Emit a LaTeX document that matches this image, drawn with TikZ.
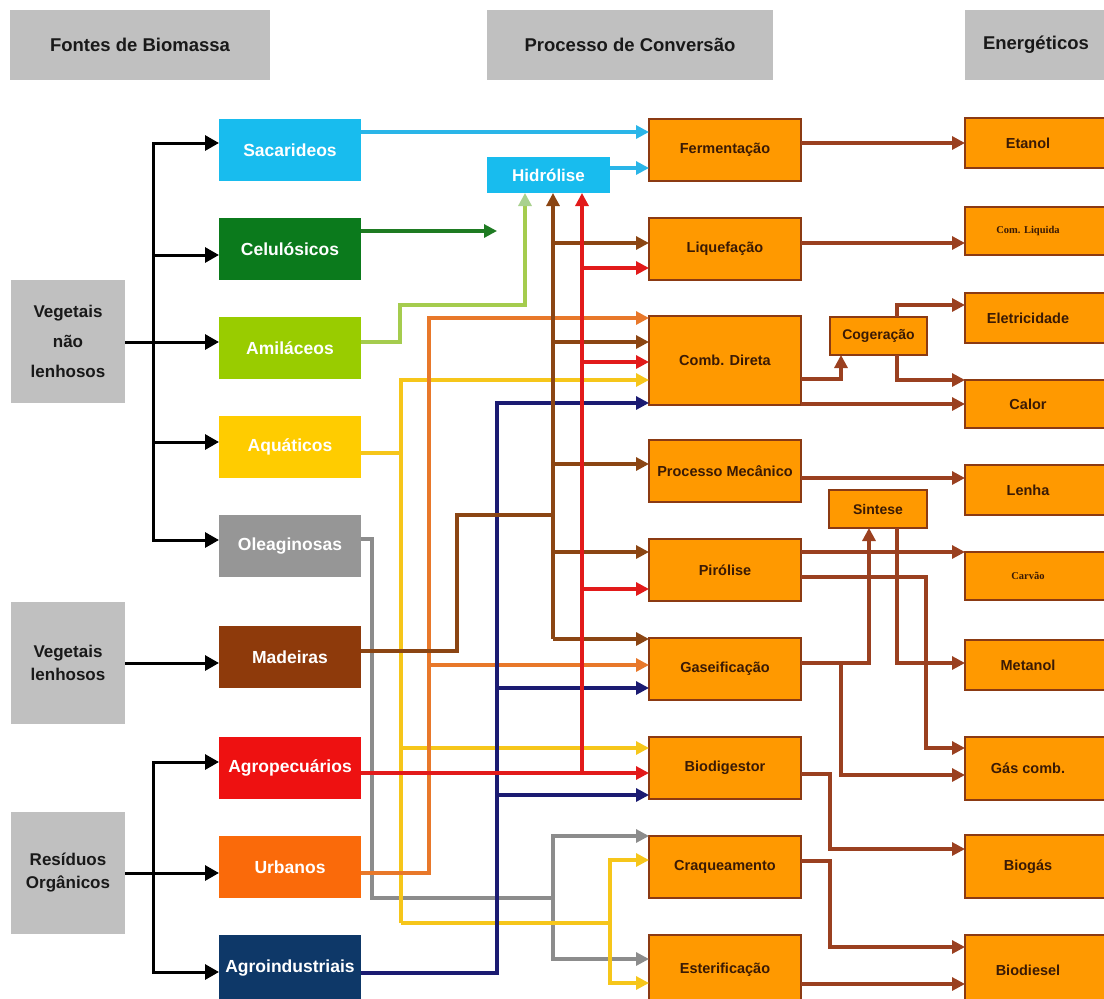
\documentclass[tikz,border=0pt]{standalone}
\usepackage{fontspec}
\setmainfont{Liberation Sans}
\newfontfamily\smallserif{Liberation Serif}
\usetikzlibrary{arrows.meta}
\definecolor{hdrG}{HTML}{C0C0C0}
\definecolor{cyanC}{HTML}{18BCEE}
\definecolor{celG}{HTML}{0B7A1C}
\definecolor{amiG}{HTML}{99CC00}
\definecolor{aquY}{HTML}{FFCC00}
\definecolor{oleG}{HTML}{969696}
\definecolor{madB}{HTML}{8E3A0B}
\definecolor{agpR}{HTML}{EE1111}
\definecolor{urbO}{HTML}{FA6A0A}
\definecolor{agiN}{HTML}{0E3868}
\definecolor{procO}{HTML}{FF9900}
\definecolor{procB}{HTML}{8B3A13}
\definecolor{procT}{HTML}{3A1A05}
\definecolor{lnBr}{HTML}{8B4513}
\definecolor{lnRd}{HTML}{E21A1A}
\definecolor{lnOr}{HTML}{E8782A}
\definecolor{lnYl}{HTML}{F6C61A}
\definecolor{lnGy}{HTML}{8C8C8C}
\definecolor{lnNv}{HTML}{1B1B72}
\definecolor{lnLg}{HTML}{A5CC4E}
\definecolor{tipLg}{HTML}{A9D18E}
\definecolor{lnGr}{HTML}{1E7B22}
\definecolor{lnCy}{HTML}{2AB5E8}
\definecolor{rBr}{HTML}{9A4020}
\begin{document}
\begin{tikzpicture}[x=1pt,y=-1pt,
  box/.style={anchor=north west, inner sep=0pt, outer sep=0pt},
  hdrbox/.style={box, fill=hdrG, minimum height=70pt, text=black!90, font=\fontsize{18.5}{21}\selectfont\bfseries},
  grpbox/.style={box, fill=hdrG, minimum width=114pt, minimum height=122pt, align=center, font=\fontsize{17}{23}\selectfont\bfseries, text=black!90},
  srcbox/.style={box, minimum width=142pt, minimum height=62pt, text=white, font=\fontsize{17.5}{20}\selectfont\bfseries},
  procbox/.style={box, fill=procO, draw=procB, line width=2pt, minimum width=152pt, minimum height=62pt, text=procT, font=\fontsize{14.5}{16}\selectfont\bfseries},
  midbox/.style={box, fill=procO, draw=procB, line width=2pt, minimum width=97pt, minimum height=38pt, text=procT, font=\fontsize{14}{16}\selectfont\bfseries},
  enbox/.style={box, fill=procO, draw=procB, line width=2pt, minimum width=150pt, minimum height=50pt, text=procT, font=\fontsize{14.5}{16}\selectfont\bfseries, execute at begin node={\hspace*{-24pt}}},
  conn/.style={line width=3.1pt},
  tip/.style={-{Triangle[length=13pt,width=13pt]}},
  blk/.style={line width=3pt, black, -{Triangle[length=14pt,width=15pt]}},
  rb/.style={conn, rBr, tip}
]
\useasboundingbox (0,0) rectangle (1104,999);
\fill[white] (0,0) rectangle (1104,999);

% headers
\node[hdrbox, minimum width=260pt] (h1) at (10,10) {Fontes de Biomassa};
\node[hdrbox, minimum width=286pt] (h2) at (487,10) {Processo de Conversão};
\node[hdrbox, minimum width=142pt] (h3) at (965,10) {Energéticos};

% group boxes
\node[grpbox, font=\fontsize{17}{30}\selectfont\bfseries, minimum height=123pt] (vnl) at (11,280) {Vegetais\\não\\lenhosos};
\node[grpbox] (vl) at (11,602) {Vegetais\\lenhosos};
\node[grpbox] (ro) at (11,812) {Resíduos\\Orgânicos};

% source boxes
\node[srcbox, fill=cyanC] (sac) at (219,119) {Sacarideos};
\node[srcbox, fill=celG] (cel) at (219,218) {Celulósicos};
\node[srcbox, fill=amiG] (ami) at (219,317) {Amiláceos};
\node[srcbox, fill=aquY] (aqu) at (219,416) {Aquáticos};
\node[srcbox, fill=oleG] (ole) at (219,515) {Oleaginosas};
\node[srcbox, fill=madB] (mad) at (219,626) {Madeiras};
\node[srcbox, fill=agpR] (agp) at (219,737) {Agropecuários};
\node[srcbox, fill=urbO] (urb) at (219,836) {Urbanos};
\node[srcbox, fill=agiN, minimum height=66pt] (agi) at (219,935) {Agroindustriais};

% hidrolise
\node[box, fill=cyanC, minimum width=123pt, minimum height=36pt, text=white, font=\fontsize{17}{20}\selectfont\bfseries] (hid) at (487,157) {Hidrólise};

% process boxes
\node[procbox] (ferm) at (649,119) {Fermentação};
\node[procbox] (liq) at (649,218) {Liquefação};
\node[procbox, minimum height=89pt] (comb) at (649,316) {Comb. Direta};
\node[procbox] (mec) at (649,440) {Processo Mecânico};
\node[procbox] (pir) at (649,539) {Pirólise};
\node[procbox] (gas) at (649,638) {Gaseificação};
\node[procbox] (bio) at (649,737) {Biodigestor};
\node[procbox] (craq) at (649,836) {Craqueamento};
\node[procbox, minimum height=70pt] (est) at (649,935) {Esterificação};

% intermediate
\node[midbox] (cog) at (830,317) {Cogeração};
\node[midbox, minimum width=98pt] (sin) at (829,490) {Sintese};

% energy boxes
\node[enbox] (eta) at (965,118) {Etanol};
\node[enbox, minimum height=48pt, font=\smallserif\fontsize{10.5}{12}\selectfont\bfseries] (liqd) at (965,207) {Com. Liquida};
\node[enbox] (elet) at (965,293) {Eletricidade};
\node[enbox, minimum height=48pt] (cal) at (965,380) {Calor};
\node[enbox] (len) at (965,465) {Lenha};
\node[enbox, minimum height=48pt, font=\smallserif\fontsize{10.5}{12}\selectfont\bfseries] (carv) at (965,552) {Carvão};
\node[enbox] (met) at (965,640) {Metanol};
\node[enbox, minimum height=63pt] (gasc) at (965,737) {Gás comb.};
\node[enbox, minimum height=63pt] (biog) at (965,835) {Biogás};
\node[enbox, minimum height=70pt] (biod) at (965,935) {Biodiesel};

% black tree
\coordinate (j1) at (153,342);
\coordinate (j2) at (153,873);
\draw[blk] (vnl.east |- 0,342) -- (ami.west |- 0,342);
\draw[blk] (j1) |- (sac.west |- 0,143);
\draw[blk] (j1) |- (cel.west |- 0,255);
\draw[blk] (j1) |- (aqu.west |- 0,442);
\draw[blk] (j1) |- (ole.west |- 0,540);
\draw[blk] (vl.east |- 0,663) -- (mad.west |- 0,663);
\draw[blk] (ro.east |- 0,873) -- (urb.west |- 0,873);
\draw[blk] (j2) |- (agp.west |- 0,762);
\draw[blk] (j2) |- (agi.west |- 0,972);

% cyan
\draw[conn, lnCy, tip] (sac.east |- 0,132) -- (ferm.west |- 0,132);
\draw[conn, lnCy, tip] (hid.east |- 0,168) -- (ferm.west |- 0,168);
% green
\coordinate (gend) at (497,231);
\draw[conn, lnGr, tip] (cel.east |- 0,231) -- (gend);
% light green
\draw[conn, lnLg, -{Triangle[length=13pt,width=13pt,color=tipLg]}] (ami.east |- 0,342) -- (400,342) -- (400,305) -- (525,305) -- (hid.south -| 525,0);

% gray
\coordinate (jg) at (553,898);
\draw[conn, lnGy] (ole.east |- 0,539) -- (372,539) -- (372,898) -- (jg);
\draw[conn, lnGy, tip] (jg) |- (craq.west |- 0,836);
\draw[conn, lnGy, tip] (jg) |- (est.west |- 0,959);

% yellow
\coordinate (jy) at (401,453);
\coordinate (jy2) at (610,923);
\draw[conn, lnYl] (aqu.east |- 0,453) -- (jy);
\draw[conn, lnYl, tip] (401,923) -- (401,380) -- (comb.west |- 0,380);
\draw[conn, lnYl, tip] (401,748) -- (bio.west |- 0,748);
\draw[conn, lnYl] (401,923) -- (jy2);
\draw[conn, lnYl, tip] (jy2) |- (craq.west |- 0,860);
\draw[conn, lnYl, tip] (jy2) |- (est.west |- 0,983);

% orange
\draw[conn, lnOr, tip] (urb.east |- 0,873) -- (429,873) -- (429,318) -- (comb.west |- 0,318);
\draw[conn, lnOr, tip] (429,665) -- (gas.west |- 0,665);

% navy
\draw[conn, lnNv, tip] (agi.east |- 0,973) -- (497,973) -- (497,403) -- (comb.west |- 0,403);
\draw[conn, lnNv, tip] (497,688) -- (gas.west |- 0,688);
\draw[conn, lnNv, tip] (497,795) -- (bio.west |- 0,795);

% brown (Madeiras)
\draw[conn, lnBr] (mad.east |- 0,651) -- (457,651) -- (457,515) -- (553,515);
\draw[conn, lnBr, tip] (553,639) -- (hid.south -| 553,0);
\draw[conn, lnBr, tip] (553,639) -- (gas.west |- 0,639);
\draw[conn, lnBr, tip] (553,243) -- (liq.west |- 0,243);
\draw[conn, lnBr, tip] (553,342) -- (comb.west |- 0,342);
\draw[conn, lnBr, tip] (553,464) -- (mec.west |- 0,464);
\draw[conn, lnBr, tip] (553,552) -- (pir.west |- 0,552);

% red
\draw[conn, lnRd, tip] (agp.east |- 0,773) -- (bio.west |- 0,773);
\draw[conn, lnRd, tip] (582,773) -- (hid.south -| 582,0);
\draw[conn, lnRd, tip] (582,268) -- (liq.west |- 0,268);
\draw[conn, lnRd, tip] (582,362) -- (comb.west |- 0,362);
\draw[conn, lnRd, tip] (582,589) -- (pir.west |- 0,589);

% right side
\draw[rb] (ferm.east |- 0,143) -- (eta.west |- 0,143);
\draw[rb] (liq.east |- 0,243) -- (liqd.west |- 0,243);
\draw[rb] (comb.east |- 0,379) -| (cog.south -| 841,0);
\draw[rb] (comb.east |- 0,404) -- (cal.west |- 0,404);
\draw[rb] (cog.north -| 897,0) |- (elet.west |- 0,305);
\draw[rb] (cog.south -| 897,0) |- (cal.west |- 0,380);
\draw[rb] (mec.east |- 0,478) -- (len.west |- 0,478);
\draw[rb] (pir.east |- 0,552) -- (carv.west |- 0,552);
\draw[rb] (pir.east |- 0,577) -- (926,577) -- (926,748) -- (gasc.west |- 0,748);
\draw[rb] (gas.east |- 0,663) -| (sin.south -| 869,0);
\draw[rb] (sin.south -| 897,0) |- (met.west |- 0,663);
\draw[rb] (841,663) |- (gasc.west |- 0,775);
\draw[rb] (bio.east |- 0,774) -- (830,774) -- (830,849) -- (biog.west |- 0,849);
\draw[rb] (craq.east |- 0,861) -- (830,861) -- (830,947) -- (biod.west |- 0,947);
\draw[rb] (est.east |- 0,984) -- (biod.west |- 0,984);
\end{tikzpicture}
\end{document}
